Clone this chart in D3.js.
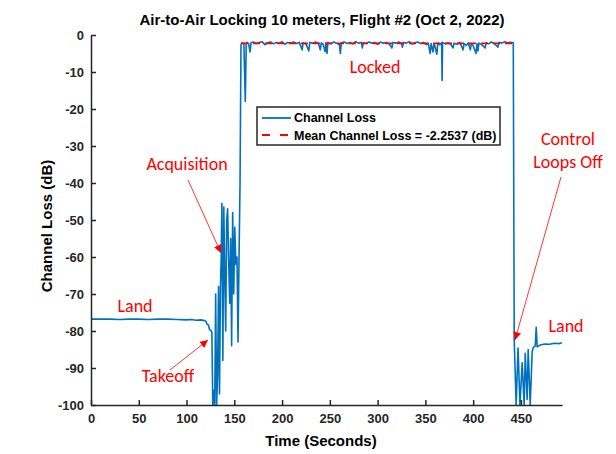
<html>
<head>
    <meta charset="utf-8">
    <style>
        body { margin: 0; background: #fff; }
        text { font-family: "Liberation Sans", Arial, sans-serif; }
        .note { font-family: Carlito, Lato, "Open Sans", sans-serif; fill: #ff0000; font-size: 18px; }
    </style>
</head>
<body>
    <svg id="container" width="616" height="454">
        <g id="body"></g>
        <g id="yAxis"></g>
        <g id="xAxis"></g>
    </svg>
</body>
<script src="https://cdn.jsdelivr.net/npm/d3@7"></script>
<script>
    // time in seconds, channel loss in dB
    let timeSec = [
        0, 10, 20, 30, 40, 50, 60, 70, 80, 90, 100, 105, 110, 115, 119,
        120.5, 121.5, 123, 124, 125.5, 126.5, 127.5, 128.5, 129.5, 130.5, 131.5, 132.5, 133.5, 134.5, 135.5,
        136.3, 137, 138, 139, 140, 141, 142, 143, 144, 145.2, 146.2, 147.2, 148.3, 149.4, 150.5,
        151.6, 152.8, 153.9, 155, 156, 157, 158.5, 160, 161.5, 162.5,
        163.5, 165, 166.5, 167.5, 170, 173, 176, 179, 182, 185, 188, 191, 194, 197, 200, 203, 206, 209,
        212, 215, 218, 221, 222, 225, 228, 229, 232, 235, 238, 240, 241, 243, 245, 246, 247, 248, 251,
        254, 257, 260, 261, 262, 265, 268, 271, 274, 277, 280, 283, 284, 285, 288, 291, 294, 297, 300,
        303, 306, 309, 312, 315, 316, 319, 322, 325, 326, 327, 330, 333, 336, 339, 342, 345, 348, 351,
        353, 355, 356, 358, 359, 360, 362, 363, 365, 367, 367.5, 368, 371, 374, 377, 379, 380, 383, 386,
        389.5, 390.5, 393, 395, 397, 398, 400, 403, 404, 405, 406, 409, 412.6, 413.5, 416, 419, 422, 426,
        427, 430, 433, 436, 439, 442,
        443, 445, 447, 449, 451.3, 453.4, 454.5, 456.5, 457.6, 459.7, 461.8, 462.8, 465, 466, 467,
        470, 475, 480, 485, 490, 493
    ]
    let channelLoss = [
        -76.8, -76.8, -76.8, -76.9, -76.8, -76.8, -76.9, -76.8, -76.8, -76.9, -77.0, -76.9, -77.1, -77.0, -77.2,
        -77.5, -78.2, -78.4, -79.6, -79.8, -80.3, -100, -96, -100, -70, -100, -92, -68, -97, -68,
        -60, -45.5, -88, -46.5, -65, -80, -50, -47, -60, -72.5, -55, -84, -48, -70, -52,
        -62, -60, -83, -59, -40, -2.5, -2.1, -2.3, -18, -2.2,
        -2.0, -2.4, -4.6, -2.1, -1.9, -2.3, -2.0, -1.8, -2.6, -2.1, -1.9, -2.4, -2.0, -2.2, -1.8, -2.5, -2.0, -2.2,
        -1.9, -2.3, -2.0, -4.0, -2.1, -2.4, -4.3, -2.0, -2.2, -1.9, -2.3, -4.0, -2.1, -2.5, -4.5, -2.2, -5.0, -2.0, -2.4,
        -1.9, -2.2, -2.6, -5.0, -2.1, -1.9, -2.3, -2.0, -2.4, -1.8, -2.2, -2.0, -3.5, -2.1, -2.3, -1.9, -2.2, -2.0, -2.5,
        -1.9, -2.2, -2.0, -2.4, -3.5, -2.0, -2.2, -1.9, -2.3, -3.3, -2.0, -2.2, -1.8, -2.4, -2.1, -1.9, -2.3, -2.0, -2.6,
        -2.2, -5.0, -2.3, -4.6, -2.4, -3.0, -5.2, -2.2, -2.6, -2.1, -12.3, -2.0, -2.4, -2.1, -2.7, -3.5, -2.2, -2.5, -2.0,
        -4.0, -2.3, -2.8, -2.1, -4.0, -2.3, -2.9, -5.0, -2.4, -4.3, -2.2, -2.6, -3.5, -2.1, -2.4, -1.9, -2.3, -3.3,
        -2.0, -2.2, -1.8, -2.1, -2.0, -2.1,
        -82.4, -100, -84.6, -100, -88.6, -100, -86, -98.5, -85, -100, -85.6, -84.5, -84, -79, -84.3,
        -83.8, -83.5, -83.6, -83.3, -83.4, -83.2
    ]
    let meanLoss = -2.2537
    let meanSpan = [157, 442]

    let xTicks = [0, 50, 100, 150, 200, 250, 300, 350, 400, 450]
    let yTicks = [-100, -90, -80, -70, -60, -50, -40, -30, -20, -10, 0]

    let notes = [
        { lines: ["Locked"], x: 375, y: 73 },
        { lines: ["Acquisition"], x: 187, y: 170 },
        { lines: ["Land"], x: 135, y: 312 },
        { lines: ["Takeoff"], x: 168, y: 382 },
        { lines: ["Control", "Loops Off"], x: 568, y: 145 },
        { lines: ["Land"], x: 566, y: 332 }
    ]
    // arrows: from -> tip (pixels)
    let arrows = [
        [188, 180, 221, 253],
        [170, 370, 208, 340],
        [561, 177, 515, 340]
    ]

    let svg = d3.select("#container")
    let body = d3.select("#body")

    let xScale = d3.scaleLinear().domain([0, 493]).range([91, 562])
    let yScale = d3.scaleLinear().domain([-100, 0]).range([405, 35])

    let points = timeSec.map((t, i) => [t, channelLoss[i]])

    body.append("path")
        .datum(points)
        .attr("fill", "none")
        .attr("stroke", "#0072BD")
        .attr("stroke-width", 1.6)
        .attr("stroke-linejoin", "round")
        .attr("d", d3.line().x(d => xScale(d[0])).y(d => yScale(d[1])))

    body.append("line")
        .attr("x1", xScale(meanSpan[0]))
        .attr("x2", xScale(meanSpan[1]))
        .attr("y1", yScale(meanLoss))
        .attr("y2", yScale(meanLoss))
        .attr("stroke", "#ff0000")
        .attr("stroke-width", 1.6)
        .attr("stroke-dasharray", "7,5")

    // axes, ticks point inward like matlab; plain hyphen for minus
    let yAxis = d3.select("#yAxis")
        .attr("transform", `translate(${xScale(0)},0)`)
        .call(d3.axisLeft(yScale).tickValues(yTicks).tickFormat(d => String(d))
            .tickSizeInner(-5).tickSizeOuter(0).tickPadding(7))
    let xAxis = d3.select("#xAxis")
        .attr("transform", `translate(0,${yScale(-100)})`)
        .call(d3.axisBottom(xScale).tickValues(xTicks).tickFormat(d => String(d))
            .tickSizeInner(-5).tickSizeOuter(0).tickPadding(9))

    svg.selectAll(".domain, .tick line").attr("stroke", "#262626").attr("stroke-width", 1.5)
    svg.selectAll(".tick text")
        .attr("fill", "#262626")
        .style("font-family", "'Liberation Sans', Arial, sans-serif")
        .style("font-size", "13px")
        .style("font-weight", "bold")

    // title and axis labels
    svg.append("text")
        .attr("x", 322).attr("y", 25)
        .attr("text-anchor", "middle")
        .style("font-size", "15px").style("font-weight", "bold")
        .text("Air-to-Air Locking 10 meters, Flight #2 (Oct 2, 2022)")

    svg.append("text")
        .attr("x", 321).attr("y", 446)
        .attr("text-anchor", "middle")
        .style("font-size", "15px").style("font-weight", "bold")
        .text("Time (Seconds)")

    svg.append("text")
        .attr("transform", "translate(52,226) rotate(-90)")
        .attr("text-anchor", "middle")
        .style("font-size", "15px").style("font-weight", "bold")
        .text("Channel Loss (dB)")

    // legend
    let legend = svg.append("g")
    legend.append("rect")
        .attr("x", 257).attr("y", 107).attr("width", 243).attr("height", 38)
        .attr("fill", "#fff").attr("stroke", "#262626").attr("stroke-width", 1.5)
    legend.append("line")
        .attr("x1", 262).attr("x2", 291).attr("y1", 118).attr("y2", 118)
        .attr("stroke", "#0072BD").attr("stroke-width", 1.8)
    legend.append("line")
        .attr("x1", 262).attr("x2", 291).attr("y1", 135).attr("y2", 135)
        .attr("stroke", "#ff0000").attr("stroke-width", 1.8).attr("stroke-dasharray", "8,10")
    legend.append("text")
        .attr("x", 294).attr("y", 122)
        .style("font-size", "12.5px").style("font-weight", "bold")
        .text("Channel Loss")
    legend.append("text")
        .attr("x", 294).attr("y", 139.5)
        .style("font-size", "12.5px").style("font-weight", "bold")
        .text(`Mean Channel Loss = ${meanLoss} (dB)`)

    // red annotations
    svg.append("defs").append("marker")
        .attr("id", "head")
        .attr("viewBox", "0 0 10 10")
        .attr("refX", 10).attr("refY", 5)
        .attr("markerWidth", 8).attr("markerHeight", 8)
        .attr("markerUnits", "userSpaceOnUse")
        .attr("orient", "auto")
        .append("path").attr("d", "M0,0L10,5L0,10z").attr("fill", "#ff0000")

    svg.selectAll(".arrow")
        .data(arrows)
        .enter()
        .append("line")
        .attr("class", "arrow")
        .attr("x1", d => d[0]).attr("y1", d => d[1])
        .attr("x2", d => d[2]).attr("y2", d => d[3])
        .attr("stroke", "#ff0000").attr("stroke-width", 0.8)
        .attr("marker-end", "url(#head)")

    notes.forEach(n => {
        let t = svg.append("text")
            .attr("class", "note")
            .attr("text-anchor", "middle")
            .attr("x", n.x).attr("y", n.y)
        n.lines.forEach((l, i) => {
            t.append("tspan").attr("x", n.x).attr("y", n.y + i * 23).text(l)
        })
    })
</script>
</html>
